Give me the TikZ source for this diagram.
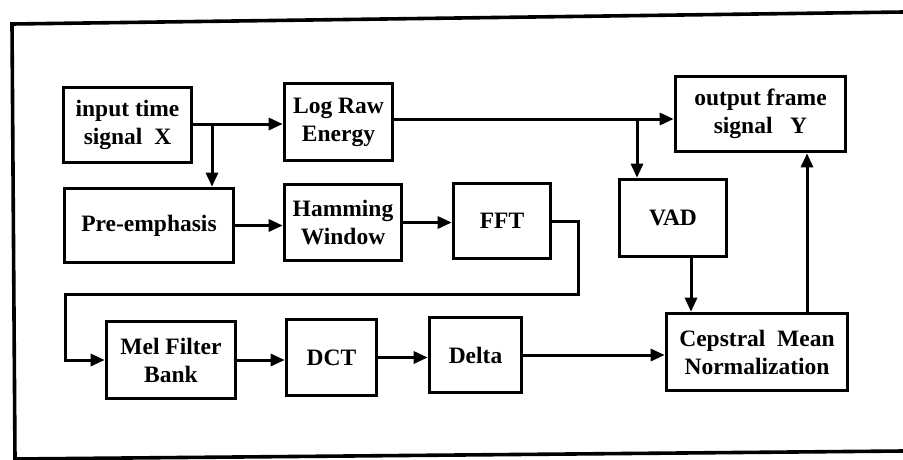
\documentclass[tikz,border=0pt]{standalone}
\usepackage{fontspec}
\setmainfont{Liberation Serif}
\usetikzlibrary{arrows.meta}
\begin{document}
\begin{tikzpicture}[x=1pt,y=-1pt,
  blk/.style={draw, line width=3.6pt, inner sep=0pt, align=center,
    font=\fontsize{23.5}{28}\selectfont\bfseries},
  arr/.style={line width=3pt, -{Triangle[length=14pt,width=12pt]}},
  ln/.style={line width=3pt}]
\useasboundingbox (0,0) rectangle (903,459);
\draw[line width=3.6pt] (903,12) -- (12,24) -- (15,459) -- (903,451);
\node[blk, minimum width=128, minimum height=75] (inp) at (127.5,125) {input time\\signal~~X};
\node[blk, minimum width=108, minimum height=77] (log) at (338.5,122) {Log Raw\\Energy};
\node[blk, minimum width=169, minimum height=74] (pre) at (149,225.5) {Pre-emphasis};
\node[blk, minimum width=117, minimum height=76] (ham) at (343,222.5) {Hamming\\Window};
\node[blk, minimum width=97, minimum height=75] (fft) at (502,221) {FFT};
\node[blk, minimum width=107, minimum height=77] (vad) at (673,218) {VAD};
\node[blk, minimum width=170, minimum height=75] (out) at (760.5,114) {output frame\\signal~~~Y};
\node[blk, minimum width=129, minimum height=77] (mel) at (171,360) {Mel Filter\\Bank};
\node[blk, minimum width=90, minimum height=76] (dct) at (331.5,357.5) {DCT};
\node[blk, minimum width=92, minimum height=75] (del) at (475.5,355) {Delta};
\node[blk, minimum width=181, minimum height=77] (cmn) at (757,352) {Cepstral~~Mean\\Normalization};
% input -> log raw energy, branch to pre-emphasis
\coordinate (b1) at (212,124);
\draw[arr] (b1 -| inp.east) -- (b1 -| log.west);
\draw[arr] (b1) -- (b1 |- pre.north);
% log raw energy -> output, branch to VAD
\coordinate (b2) at (637,119);
\draw[arr] (b2 -| log.east) -- (b2 -| out.west);
\draw[arr] (b2) -- (b2 |- vad.north);
% second row
\draw[arr] (pre.east) -- (pre.east -| ham.west);
\draw[arr] (ham.east) -- (ham.east -| fft.west);
% FFT -> Mel filter bank
\coordinate (c1) at (578,294);
\coordinate (c2) at (65,294);
\draw[arr] (fft.east) -| (c1) -- (c2) |- (mel.west);
% third row
\draw[arr] (mel.east) -- (mel.east -| dct.west);
\draw[arr] (dct.east) -- (dct.east -| del.west);
\draw[arr] (del.east) -- (del.east -| cmn.west);
% VAD -> CMN, CMN -> output
\draw[arr] ([xshift=18pt]vad.south) -- ([xshift=18pt]vad.south |- cmn.north);
\draw[arr] ([xshift=50pt]cmn.north) -- ([xshift=50pt]cmn.north |- out.south);
\end{tikzpicture}
\end{document}
